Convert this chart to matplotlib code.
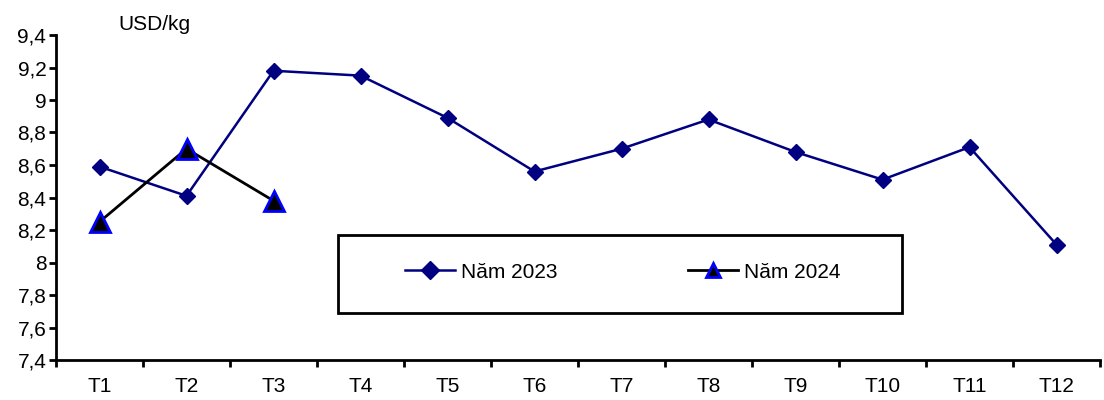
import matplotlib
matplotlib.use('Agg')
import matplotlib.pyplot as plt
from matplotlib.ticker import FuncFormatter, FixedLocator
from matplotlib.patches import Rectangle
import numpy as np

plt.rcParams['font.family'] = ['Liberation Sans', 'DejaVu Sans']

# data
months = ['T1', 'T2', 'T3', 'T4', 'T5', 'T6', 'T7', 'T8', 'T9', 'T10', 'T11', 'T12']
price_2023 = [8.59, 8.41, 9.18, 9.15, 8.89, 8.56, 8.70, 8.88, 8.68, 8.51, 8.71, 8.11]
price_2024 = [8.25, 8.70, 8.38]
yticks = [7.4, 7.6, 7.8, 8.0, 8.2, 8.4, 8.6, 8.8, 9.0, 9.2, 9.4]

fs = 15
W, H = 1104, 400
fig = plt.figure(figsize=(W / 100, H / 100), dpi=100)
ax = fig.add_axes([56 / W, 40 / H, 1044 / W, 325 / H])

x23 = np.arange(1, len(price_2023) + 1)
x24 = np.arange(1, len(price_2024) + 1)

ax.plot(x23, price_2023, color='#000080', lw=1.8, marker='D', ms=8,
        mfc='#000080', mec='#000080', label='Năm 2023', zorder=3)
ax.plot(x24, price_2024, color='black', lw=2, marker='^', ms=15,
        mfc='black', mec='#0000ff', mew=2, label='Năm 2024', zorder=4)

ax.set_xlim(0.5, len(months) + 0.5)
ax.set_ylim(7.4, 9.4)
ax.set_yticks(yticks)

def comma(v, pos):
    s = ('%.1f' % v).rstrip('0').rstrip('.')
    return s.replace('.', ',')
ax.yaxis.set_major_formatter(FuncFormatter(comma))

# category labels centred, tick marks between categories
ax.set_xticks(x23)
ax.set_xticklabels(months)
ax.xaxis.set_minor_locator(FixedLocator(np.arange(0.5, len(months) + 1, 1)))
ax.tick_params(axis='x', which='major', length=0, pad=12, labelsize=fs)
ax.tick_params(axis='x', which='minor', length=5, width=2, direction='out')
ax.tick_params(axis='y', length=5, width=2, direction='out', labelsize=fs, pad=2)

for side in ['top', 'right']:
    ax.spines[side].set_visible(False)
for side in ['left', 'bottom']:
    ax.spines[side].set_linewidth(2)

fig.text(118 / W, 1 - 24 / H, 'USD/kg', fontsize=fs, va='center', ha='left')

# legend box
fig.add_artist(Rectangle((338 / W, 1 - 313 / H), 564 / W, 78 / H,
                         transform=fig.transFigure, fill=False, ec='black', lw=2))
leg = ax.legend(loc='center', bbox_to_anchor=(623 / W, 1 - 272 / H),
                bbox_transform=fig.transFigure, ncol=2, frameon=False,
                fontsize=fs, columnspacing=6.25, handlelength=2.4,
                handletextpad=0.3, borderpad=0)
leg.legend_handles[1].set_markersize(10)
leg.legend_handles[0].set_markersize(9)

fig.savefig('out.png', dpi=100)
